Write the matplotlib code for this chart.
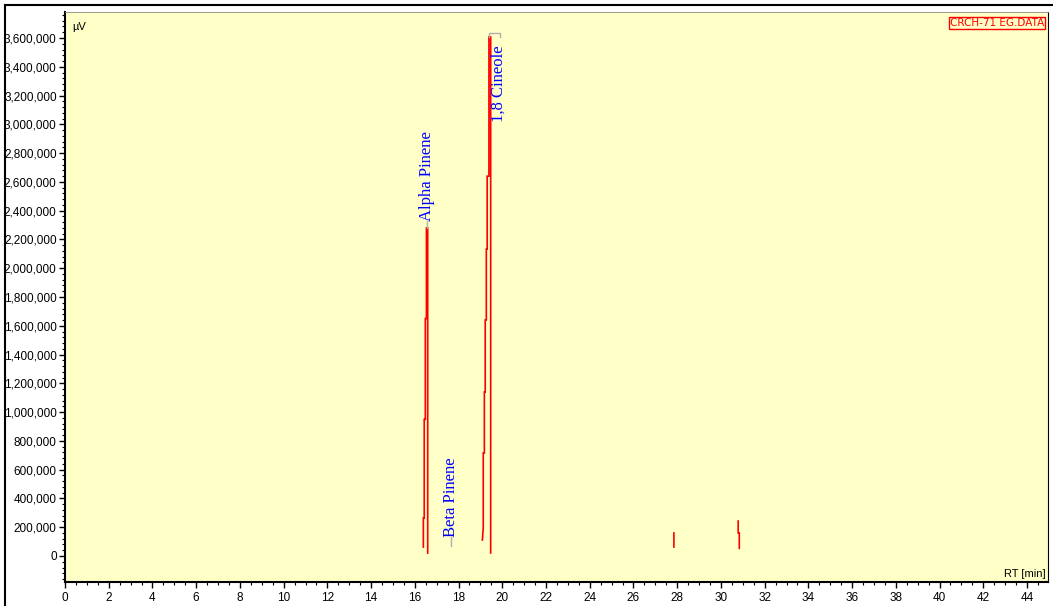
import numpy as np
import matplotlib
matplotlib.use("Agg")
import matplotlib.pyplot as plt
from matplotlib.ticker import MultipleLocator, FuncFormatter
from matplotlib.lines import Line2D

# ---- data ----
nan = np.nan
rt_min = [16.39, 16.39, 16.43, 16.43, 16.48, 16.48, 16.53, 16.53, 16.59, 16.59, nan,
          19.09, 19.13, 19.13, 19.18, 19.18, 19.22, 19.22, 19.27, 19.27, 19.31, 19.31,
          19.39, 19.39, 19.47, 19.47, nan,
          27.85, 27.85, nan,
          30.79, 30.79, 30.84, 30.84]
signal_uv = [62000, 264000, 264000, 950000, 950000, 1650000, 1650000, 2280000, 2280000, 20000, nan,
             111000, 195000, 716000, 716000, 1140000, 1140000, 1640000, 1640000, 2133000, 2133000, 2640000,
             2640000, 3607000, 3607000, 21000, nan,
             160000, 62000, nan,
             243000, 160000, 160000, 53000]

peak_names = ["Alpha Pinene", "Beta Pinene", "1,8 Cineole"]
peak_rt = [16.56, 17.66, 19.66]
peak_label_y = [2330000, 135000, 3550000]

x_ticks = list(range(0, 45, 2))
y_ticks = list(range(0, 3600001, 200000))
file_label = "CRCH-71 EG.DATA"

# ---- figure ----
W, H = 1053, 606
fig = plt.figure(figsize=(W / 100, H / 100), dpi=100)
ax = fig.add_axes([65 / W, 1 - 582 / H, (1048 - 65) / W, (582 - 12) / H])
ax.set_facecolor("#FFFFC8")

ax.plot(rt_min, signal_uv, color="#FF0000", lw=1.2, solid_joinstyle="miter")

ax.set_xlim(0, 44.96)
ax.set_ylim(-180700, 3780700)

ax.xaxis.set_major_locator(MultipleLocator(2))
ax.xaxis.set_minor_locator(MultipleLocator(0.5))
ax.yaxis.set_major_locator(MultipleLocator(200000))
ax.yaxis.set_minor_locator(MultipleLocator(40000))
ax.set_xticks(x_ticks)
ax.set_yticks(y_ticks)
ax.yaxis.set_major_formatter(FuncFormatter(lambda v, p: f"{int(round(v)):,}"))

for lab in ax.get_xticklabels() + ax.get_yticklabels():
    lab.set_fontfamily("Liberation Sans")
    lab.set_fontsize(8.5)

ax.tick_params(axis="both", which="major", direction="out", length=4, width=1, color="black", pad=2)
ax.tick_params(axis="both", which="minor", direction="out", length=2, width=0.8, color="black")
ax.tick_params(axis="x", pad=3)

ax.spines["left"].set_linewidth(1.5)
ax.spines["bottom"].set_linewidth(1.5)
ax.spines["top"].set_linewidth(0.6)
ax.spines["right"].set_linewidth(0.8)
ax.spines["top"].set_color("#888888")

# peak labels
gray = "#B0B0B0"
# Alpha Pinene
ax.plot([peak_rt[0], peak_rt[0]], [2280000, 2330000], color=gray, lw=1)
ax.text(peak_rt[0], peak_label_y[0], peak_names[0], rotation=90, ha="center", va="bottom",
        color="#0000FF", fontsize=12, fontfamily="Liberation Serif")
# Beta Pinene
ax.plot([peak_rt[1], peak_rt[1]], [70000, 130000], color=gray, lw=1)
ax.text(peak_rt[1], peak_label_y[1], peak_names[1], rotation=90, ha="center", va="bottom",
        color="#0000FF", fontsize=12, fontfamily="Liberation Serif")
# 1,8 Cineole with bracket
ax.plot([19.39, 19.39, 19.89, 19.89], [3607000, 3635000, 3635000, 3610000], color=gray, lw=1)
ax.text(19.82, peak_label_y[2], peak_names[2], rotation=90, ha="center", va="top",
        color="#0000FF", fontsize=12, fontfamily="Liberation Serif")

# axis unit labels
ax.text(7 / (1048 - 65), 1 - 10 / 570, "µV", transform=ax.transAxes, ha="left", va="top",
        fontsize=8, fontfamily="Liberation Sans")
ax.text(1 - 2 / 983, 3 / 570, "RT [min]", transform=ax.transAxes, ha="right", va="bottom",
        fontsize=8, fontfamily="Liberation Sans")
ax.text(1 - 4 / 983, 1 - 6 / 570, file_label, transform=ax.transAxes, ha="right", va="top",
        fontsize=7.5, fontfamily="Liberation Sans Narrow", color="#FF0000",
        bbox=dict(boxstyle="square,pad=0.1", fc="none", ec="#FF0000", lw=1))

# outer frame
fig.add_artist(Line2D([5 / W, 5 / W], [0, 1 - 5 / H], color="black", lw=1.5, transform=fig.transFigure))
fig.add_artist(Line2D([5 / W, 1], [1 - 5 / H, 1 - 5 / H], color="black", lw=1.5, transform=fig.transFigure))

fig.savefig("out.png", dpi=100, facecolor="white")
